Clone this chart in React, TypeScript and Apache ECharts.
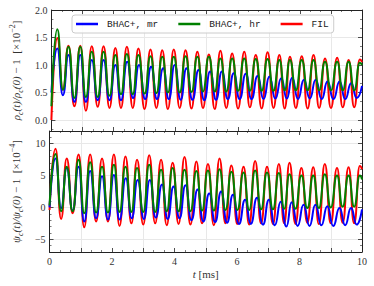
import React, { useEffect, useRef } from "react";
import * as echarts from "echarts";

// extrema times (ms) for FIL and BHAC+ hr, and for BHAC+ mr (slight phase lag)
const tRG = [0, 0.19, 0.37, 0.55, 0.74, 0.93, 1.11, 1.30, 1.49, 1.68, 1.87, 2.06, 2.24, 2.43, 2.62, 2.80, 3.00, 3.19, 3.38, 3.57, 3.75, 3.94, 4.13, 4.32, 4.51, 4.70, 4.88, 5.07, 5.26, 5.44, 5.63, 5.82, 6.01, 6.21, 6.39, 6.58, 6.77, 6.96, 7.15, 7.34, 7.51, 7.68, 7.87, 8.06, 8.25, 8.44, 8.62, 8.81, 9.00, 9.20, 9.38, 9.57, 9.75, 9.93, 10.0];
const tB = [0, 0.19, 0.37, 0.55, 0.74, 0.93, 1.11, 1.30, 1.49, 1.68, 1.87, 2.06, 2.24, 2.44, 2.63, 2.82, 3.02, 3.21, 3.40, 3.60, 3.78, 3.97, 4.16, 4.35, 4.54, 4.74, 4.92, 5.11, 5.30, 5.49, 5.68, 5.87, 6.06, 6.26, 6.44, 6.64, 6.83, 7.02, 7.21, 7.40, 7.58, 7.75, 7.94, 8.13, 8.32, 8.51, 8.70, 8.89, 9.08, 9.28, 9.46, 9.65, 9.83, 10.0];

// top panel: rho_c(t)/rho_c(0) - 1  [x1e-2]
const rhoFIL = [0.0, 1.49, 0.55, 1.35, 0.25, 1.35, 0.17, 1.34, 0.24, 1.34, 0.22, 1.31, 0.22, 1.33, 0.22, 1.30, 0.20, 1.28, 0.22, 1.27, 0.20, 1.28, 0.22, 1.27, 0.21, 1.24, 0.22, 1.19, 0.20, 1.26, 0.22, 1.21, 0.21, 1.24, 0.23, 1.18, 0.21, 1.23, 0.22, 1.18, 0.21, 1.15, 0.22, 1.16, 0.21, 1.18, 0.22, 1.12, 0.22, 1.13, 0.23, 1.09, 0.23, 1.10, 1.05];
const rhoHR = [0.25, 1.65, 0.55, 1.33, 0.40, 1.33, 0.42, 1.24, 0.42, 1.24, 0.44, 1.18, 0.47, 1.20, 0.47, 1.18, 0.48, 1.16, 0.49, 1.15, 0.50, 1.15, 0.50, 1.16, 0.51, 1.15, 0.52, 1.15, 0.52, 1.12, 0.52, 1.12, 0.53, 1.12, 0.53, 1.11, 0.53, 1.11, 0.53, 1.09, 0.54, 1.09, 0.54, 1.09, 0.54, 1.09, 0.54, 1.06, 0.54, 1.06, 0.54, 1.06, 0.54, 1.04, 1.00];
const rhoMR = [0.50, 1.30, 0.45, 1.18, 0.33, 1.18, 0.33, 1.09, 0.36, 1.09, 0.36, 1.00, 0.36, 1.06, 0.40, 1.00, 0.38, 0.97, 0.38, 0.94, 0.38, 1.00, 0.37, 0.94, 0.37, 0.91, 0.36, 0.88, 0.37, 0.88, 0.38, 0.85, 0.38, 0.84, 0.38, 0.80, 0.38, 0.79, 0.39, 0.76, 0.39, 0.77, 0.38, 0.73, 0.39, 0.73, 0.38, 0.70, 0.38, 0.70, 0.38, 0.67, 0.40, 0.62];

// bottom panel: psi_c(t)/psi_c(0) - 1  [x1e-4]
const psiFIL = [-0.4, 9.2, -1.8, 7.7, -0.9, 8.3, -3.1, 8.3, -2.2, 7.7, -2.2, 8.3, -2.9, 8.0, -2.5, 7.5, -2.7, 8.2, -2.5, 7.5, -2.8, 7.0, -2.6, 7.9, -2.7, 7.2, -2.5, 6.8, -2.8, 7.7, -2.5, 6.6, -2.6, 6.4, -2.7, 7.3, -2.5, 6.4, -2.6, 6.8, -2.5, 7.0, -2.6, 6.2, -2.4, 6.3, -2.6, 6.8, -2.5, 6.2, -2.4, 6.3, -2.5, 6.5, 6.0];
const psiHR = [0.3, 8.4, -0.6, 6.4, -0.6, 7.5, -0.9, 7.1, -0.8, 6.4, -0.8, 6.7, -0.7, 6.4, -0.7, 6.2, -0.7, 6.7, -0.7, 5.9, -0.6, 6.2, -0.6, 5.9, -0.6, 5.7, -0.5, 5.8, -0.5, 6.0, -0.4, 5.6, -0.4, 5.5, -0.4, 5.8, -0.3, 5.5, -0.3, 5.4, -0.2, 5.2, -0.2, 5.0, -0.1, 5.0, -0.1, 5.2, 0.0, 5.0, 0.1, 5.0, 0.1, 5.0, 4.4];
const psiMR = [0.0, 7.7, -0.1, 6.2, -0.5, 6.4, -2.2, 5.7, -1.7, 4.9, -1.9, 5.1, -1.9, 4.6, -1.7, 4.3, -1.8, 4.3, -1.6, 3.6, -1.8, 3.3, -1.7, 3.5, -2.0, 2.8, -2.2, 2.2, -2.3, 2.5, -2.4, 2.0, -2.6, 1.2, -2.6, 1.5, -2.7, 1.2, -2.8, 0.9, -3.0, 0.8, -2.9, 0.4, -2.9, 0.4, -2.8, 0.2, -2.9, -0.1, -2.8, -0.1, -2.7, -0.3];

const seriesNames = ["BHAC+, mr", "BHAC+, hr", "FIL"];
const seriesColors = ["#0000ff", "#008000", "#ff0000"];

const SERIF = "'Liberation Serif', 'DejaVu Serif', serif";
const MONO = "'Liberation Mono', 'DejaVu Sans Mono', monospace";
const AX = "#222";
const LBL = "#333";

function pairs(t: number[], v: number[]) {
  return t.map((x, i) => [x, v[i]]);
}

function minus(v: number) {
  return v < 0 ? "\u2212" + Math.abs(v) : String(v);
}

export default function App() {
  const ref = useRef<HTMLDivElement>(null);
  useEffect(() => {
    if (!ref.current) return;
    const chart = echarts.init(ref.current, undefined, { renderer: "svg" });

    const tickCommon = { inside: true, length: 4, lineStyle: { color: AX, width: 0.8 } };
    const minorCommon = (n: number) => ({ show: true, splitNumber: n, length: 2, lineStyle: { color: AX, width: 0.6 } });
    const axisLine = { show: true, lineStyle: { color: AX, width: 1 } };

    const xBase = (gridIndex: number, position: string, labels: boolean, grid: boolean) => ({
      type: "value",
      gridIndex,
      position,
      min: 0,
      max: 10,
      interval: 1,
      axisLine: { ...axisLine, onZero: false },
      axisTick: tickCommon,
      minorTick: minorCommon(3),
      splitLine: grid
        ? { show: true, lineStyle: { color: ["rgba(0,0,0,0)", "#e8e8e8"], width: 1 } }
        : { show: false },
      axisLabel: labels
        ? {
            show: true,
            fontFamily: SERIF,
            fontSize: 10,
            color: LBL,
            margin: 4,
            formatter: (v: number) => (Math.round(v) % 2 === 0 ? String(Math.round(v)) : ""),
          }
        : { show: false },
    });

    const topYName =
      "{m|ρ}{s|c}{m|(t)/ρ}{s|c}{m|(0)}{n| − 1  [×10}{p|−2}{n|]}";
    const botYName =
      "{m|ψ}{s|c}{m|(t)/ψ}{s|c}{m|(0)}{n| − 1  [×10}{p|−4}{n|]}";
    const nameRich = {
      m: { fontFamily: SERIF, fontStyle: "italic", fontSize: 11, color: LBL, lineHeight: 16 },
      n: { fontFamily: SERIF, fontSize: 11, color: LBL, lineHeight: 16 },
      s: { fontFamily: SERIF, fontStyle: "italic", fontSize: 8, color: LBL, lineHeight: 16, verticalAlign: "bottom" },
      p: { fontFamily: SERIF, fontSize: 8, color: LBL, lineHeight: 16, verticalAlign: "top" },
    };

    const yBase = (
      gridIndex: number,
      position: string,
      min: number,
      max: number,
      splitNumber: number,
      minorN: number,
      step: number,
      fmt: ((v: number) => string) | null,
      name: string
    ) => ({
      type: "value",
      gridIndex,
      position,
      min,
      max,
      splitNumber,
      axisLine: { ...axisLine, onZero: false },
      axisTick: tickCommon,
      minorTick: minorCommon(minorN),
      splitLine: fmt
        ? { show: true, showMinLine: false, showMaxLine: false, lineStyle: { color: "#e8e8e8", width: 1 } }
        : { show: false },
      axisLabel: fmt
        ? {
            show: true,
            fontFamily: SERIF,
            fontSize: 10,
            color: LBL,
            margin: 4,
            showMinLabel: true,
            showMaxLabel: true,
            formatter: (v: number) => {
              const k = v / step;
              if (Math.abs(k - Math.round(k)) > 1e-6) return "";
              return fmt(v);
            },
          }
        : { show: false },
      name: name,
      nameLocation: "middle",
      nameGap: 21,
      nameRotate: 90,
      nameTextStyle: { rich: nameRich },
    });

    const mk = (name: string, color: string, t: number[], v: number[], xi: number, yi: number, z: number) => ({
      type: "line",
      name,
      xAxisIndex: xi,
      yAxisIndex: yi,
      data: pairs(t, v),
      showSymbol: false,
      smooth: 0.55,
      smoothMonotone: "x",
      lineStyle: { color, width: 2 },
      itemStyle: { color },
      z,
      clip: true,
    });

    const option = {
      animation: false,
      backgroundColor: "#ffffff",
      grid: [
        { left: 38, top: 10, width: 324, height: 121 },
        { left: 38, top: 131, width: 324, height: 121 },
      ],
      xAxis: [
        xBase(0, "bottom", false, true),
        xBase(0, "top", false, false),
        {
          ...xBase(1, "bottom", true, true),
          name: "{i|t} [ms]",
          nameLocation: "middle",
          nameGap: 16,
          nameTextStyle: {
            fontFamily: SERIF,
            fontSize: 11,
            color: LBL,
            rich: {
              i: { fontFamily: SERIF, fontStyle: "italic", fontSize: 11, color: LBL },
            },
          },
        },
        xBase(1, "top", false, false),
      ],
      yAxis: [
        yBase(0, "left", -0.2, 2.0, 5, 3, 0.5, (v) => v.toFixed(1), topYName),
        yBase(0, "right", -0.2, 2.0, 5, 3, 0.5, null, ""),
        yBase(1, "left", -7, 12, 4, 5, 5, (v) => minus(Math.round(v)), botYName),
        yBase(1, "right", -7, 12, 4, 5, 5, null, ""),
      ],
      legend: {
        data: seriesNames,
        left: 72,
        top: 15,
        orient: "horizontal",
        itemGap: 20,
        itemWidth: 22,
        itemHeight: 2.5,
        icon: "rect",
        padding: [4, 5, 4, 4],
        backgroundColor: "rgba(255,255,255,0.85)",
        borderColor: "#cccccc",
        borderWidth: 1,
        borderRadius: 3,
        z: 10,
        textStyle: { fontFamily: MONO, fontSize: 9.5, color: "#222", padding: [0, 0, 0, 4] },
      },
      series: [
        mk(seriesNames[2], seriesColors[2], tRG, rhoFIL, 0, 0, 2),
        mk(seriesNames[0], seriesColors[0], tB, rhoMR, 0, 0, 3),
        mk(seriesNames[1], seriesColors[1], tRG, rhoHR, 0, 0, 4),
        mk(seriesNames[2], seriesColors[2], tRG, psiFIL, 2, 2, 2),
        mk(seriesNames[0], seriesColors[0], tB, psiMR, 2, 2, 3),
        mk(seriesNames[1], seriesColors[1], tRG, psiHR, 2, 2, 4),
      ],
    };

    chart.setOption(option as any);
    return () => chart.dispose();
  }, []);

  return <div ref={ref} style={{ width: 374, height: 286, position: "fixed", left: 0, top: 0 }} />;
}
